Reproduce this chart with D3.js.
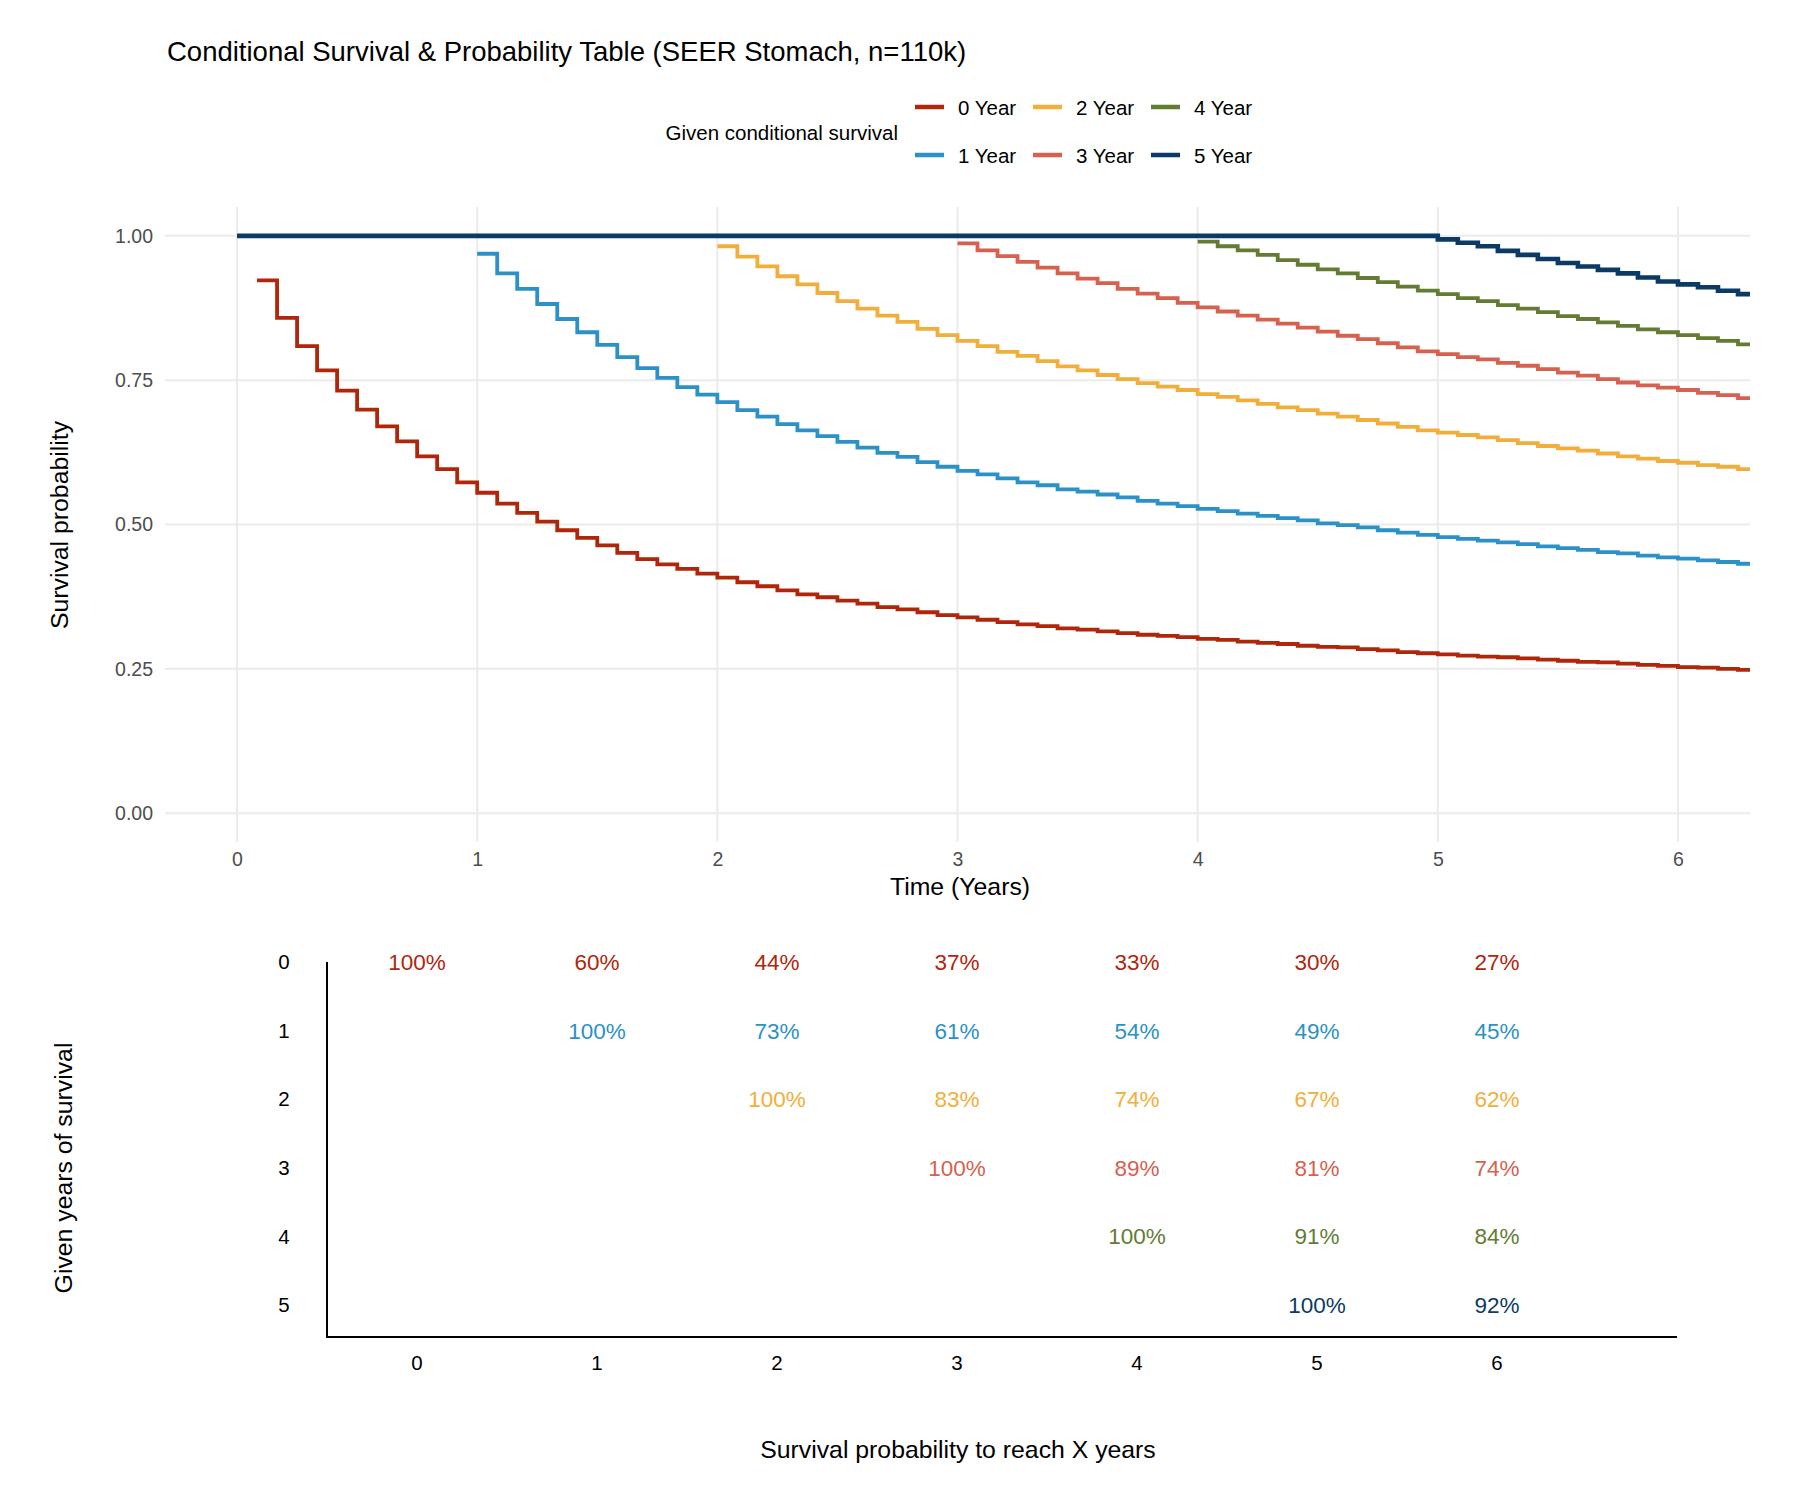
<!DOCTYPE html>
<html>
<head>
<meta charset="utf-8">
<title>Conditional Survival</title>
<script src="https://d3js.org/d3.v7.min.js"></script>
<style>
  body { margin: 0; background: #fff; }
  text { font-family: "Liberation Sans", Arial, sans-serif; }
</style>
</head>
<body>
<svg width="1800" height="1500"></svg>
<script>
    // groups: given years of conditional survival
    const groups = ["0 Year", "1 Year", "2 Year", "3 Year", "4 Year", "5 Year"];
    const colors = ["#B0260B", "#2B91C6", "#F2AE3A", "#D6614F", "#637B33", "#0B3A66"];
    // first time (years) of each curve, values step monthly after that
    const startTime = [0.0833, 1, 2, 3, 4, 5];
    const followUpEnd = 6.3;

    const surv0 = [0.923, 0.858, 0.809, 0.767, 0.732, 0.699, 0.670, 0.644, 0.618, 0.596, 0.573, 0.555,
        0.536, 0.520, 0.505, 0.490, 0.477, 0.464, 0.451, 0.440, 0.431, 0.423, 0.415,
        0.408, 0.400, 0.393, 0.386, 0.379, 0.374, 0.368, 0.363, 0.357, 0.353, 0.348, 0.343,
        0.339, 0.335, 0.331, 0.327, 0.324, 0.320, 0.318, 0.315, 0.312, 0.309, 0.307, 0.305,
        0.302, 0.300, 0.297, 0.295, 0.293, 0.290, 0.288, 0.287, 0.284, 0.282, 0.279, 0.277,
        0.275, 0.273, 0.271, 0.270, 0.268, 0.266, 0.264, 0.262, 0.261, 0.259, 0.257, 0.255,
        0.253, 0.252, 0.250, 0.248];
    const surv1 = [0.969, 0.935, 0.908, 0.882, 0.856, 0.833, 0.811, 0.790, 0.771, 0.754, 0.738, 0.725,
        0.712, 0.698, 0.687, 0.674, 0.663, 0.653, 0.643, 0.633, 0.624, 0.617, 0.608, 0.600,
        0.593, 0.587, 0.580, 0.573, 0.568, 0.561, 0.557, 0.552, 0.547, 0.541, 0.536, 0.532,
        0.527, 0.523, 0.519, 0.515, 0.511, 0.507, 0.502, 0.499, 0.495, 0.490, 0.486, 0.482,
        0.478, 0.475, 0.472, 0.469, 0.466, 0.462, 0.459, 0.456, 0.452, 0.450, 0.446, 0.443,
        0.441, 0.438, 0.435, 0.432];
    const surv2 = [0.982, 0.964, 0.947, 0.930, 0.916, 0.901, 0.887, 0.874, 0.862, 0.851, 0.839, 0.828,
        0.818, 0.809, 0.799, 0.792, 0.783, 0.774, 0.767, 0.759, 0.752, 0.745, 0.739, 0.733,
        0.726, 0.721, 0.715, 0.709, 0.703, 0.698, 0.692, 0.687, 0.681, 0.675, 0.669, 0.663,
        0.659, 0.655, 0.651, 0.646, 0.641, 0.636, 0.632, 0.628, 0.623, 0.618, 0.614, 0.610,
        0.607, 0.603, 0.600, 0.596];
    const surv3 = [0.987, 0.975, 0.965, 0.955, 0.945, 0.935, 0.926, 0.918, 0.908, 0.900, 0.892, 0.884,
        0.876, 0.869, 0.862, 0.855, 0.848, 0.841, 0.834, 0.827, 0.821, 0.814, 0.807, 0.800,
        0.795, 0.790, 0.786, 0.780, 0.775, 0.769, 0.763, 0.758, 0.752, 0.746, 0.741, 0.737,
        0.733, 0.728, 0.724, 0.719];
    const surv4 = [0.990, 0.982, 0.975, 0.967, 0.958, 0.950, 0.942, 0.935, 0.927, 0.920, 0.912, 0.905,
        0.899, 0.892, 0.887, 0.880, 0.874, 0.868, 0.861, 0.856, 0.850, 0.844, 0.838, 0.833,
        0.828, 0.823, 0.818, 0.812];
    const surv5 = [0.994, 0.988, 0.982, 0.974, 0.967, 0.960, 0.953, 0.947, 0.941, 0.935, 0.928, 0.921,
        0.916, 0.911, 0.905, 0.899];
    // the 5 year curve is drawn flat at 1 from time 0
    const lead5 = { t: 0, s: 1.00 };

    // probability table: row = given years, col = reach X years (percent)
    const tableRows = [0, 1, 2, 3, 4, 5];
    const tableCols = [0, 1, 2, 3, 4, 5, 6];
    const table0 = [100, 60, 44, 37, 33, 30, 27];
    const table1 = [100, 73, 61, 54, 49, 45];
    const table2 = [100, 83, 74, 67, 62];
    const table3 = [100, 89, 81, 74];
    const table4 = [100, 91, 84];
    const table5 = [100, 92];

    const xTicks = [0, 1, 2, 3, 4, 5, 6];
    const yTicks = [0, 0.25, 0.5, 0.75, 1];

    const survList = [surv0, surv1, surv2, surv3, surv4, surv5];
    const tableList = [table0, table1, table2, table3, table4, table5];

    const svg = d3.select("svg");

    // ---------- survival panel ----------
    const x = d3.scaleLinear().domain([-0.3, 6.3]).range([165, 1750]);
    const y = d3.scaleLinear().domain([-0.05, 1.05]).range([842, 207]);

    svg.append("clipPath").attr("id", "panel")
        .append("rect").attr("x", 165).attr("y", 200).attr("width", 1585).attr("height", 650);

    const grid = svg.append("g");
    grid.selectAll(".gx").data(xTicks).enter().append("line")
        .attr("x1", d => x(d)).attr("x2", d => x(d))
        .attr("y1", 207).attr("y2", 842)
        .attr("stroke", "#EBEBEB").attr("stroke-width", 2);
    grid.selectAll(".gy").data(yTicks).enter().append("line")
        .attr("x1", 165).attr("x2", 1750)
        .attr("y1", d => y(d)).attr("y2", d => y(d))
        .attr("stroke", "#EBEBEB").attr("stroke-width", 2);

    const yAxis = svg.append("g").attr("transform", "translate(165,0)")
        .call(d3.axisLeft(y).tickValues(yTicks).tickFormat(d3.format(".2f")).tickSize(0).tickPadding(12));
    const xAxis = svg.append("g").attr("transform", "translate(0,842)")
        .call(d3.axisBottom(x).tickValues(xTicks).tickFormat(d3.format("d")).tickSize(0).tickPadding(10));
    [xAxis, yAxis].forEach(a => {
        a.select(".domain").remove();
        a.selectAll("text").attr("fill", "#4D4D4D").style("font-size", "19.5px")
            .style("font-family", "Liberation Sans, Arial, sans-serif");
    });

    const line = d3.line().x(d => x(d.t)).y(d => y(d.s)).curve(d3.curveStepAfter);

    const curves = survList.map((vals, g) => {
        const pts = vals.map((v, i) => ({ t: startTime[g] + i / 12, s: v }));
        if (g === 5) pts.unshift(lead5);
        pts.push({ t: followUpEnd, s: vals[vals.length - 1] });
        return pts;
    });

    svg.append("g").attr("clip-path", "url(#panel)")
        .selectAll("path").data(curves).enter().append("path")
        .attr("d", line)
        .attr("fill", "none")
        .attr("stroke", (d, i) => colors[i])
        .attr("stroke-width", (d, i) => i === 5 ? 4.6 : 3.8);

    svg.append("text").attr("x", 167).attr("y", 61)
        .style("font-size", "27.5px").attr("fill", "#000")
        .text("Conditional Survival & Probability Table (SEER Stomach, n=110k)");

    svg.append("text").attr("x", 960).attr("y", 895)
        .attr("text-anchor", "middle").style("font-size", "24.8px")
        .text("Time (Years)");
    svg.append("text").attr("transform", "translate(68,525) rotate(-90)")
        .attr("text-anchor", "middle").style("font-size", "24.8px")
        .text("Survival probability");

    // legend (2 rows, filled by column)
    const legend = svg.append("g");
    legend.append("text").attr("x", 898).attr("y", 140).attr("text-anchor", "end")
        .style("font-size", "20.5px").text("Given conditional survival");
    const lg = legend.selectAll(".key").data(groups).enter().append("g")
        .attr("transform", (d, i) => `translate(${915 + Math.floor(i / 2) * 118},${i % 2 === 0 ? 107 : 155})`);
    lg.append("line").attr("x1", 0).attr("x2", 29).attr("y1", 0).attr("y2", 0)
        .attr("stroke", (d, i) => colors[i]).attr("stroke-width", 4.5);
    lg.append("text").attr("x", 43).attr("y", 7.5).style("font-size", "20.5px").text(d => d);

    // ---------- probability table ----------
    const tx = d3.scaleLinear().domain([-0.5, 7]).range([327, 1677]);
    const ty = d3.scaleLinear().domain([0, 5.47]).range([962, 1337]);

    svg.append("line").attr("x1", 327).attr("x2", 327).attr("y1", ty(0)).attr("y2", ty(5.47))
        .attr("stroke", "#000").attr("stroke-width", 2);
    svg.append("line").attr("x1", 326).attr("x2", 1677).attr("y1", ty(5.47)).attr("y2", ty(5.47))
        .attr("stroke", "#000").attr("stroke-width", 2.2);

    svg.selectAll(".rowlab").data(tableRows).enter().append("text")
        .attr("x", 284).attr("y", d => ty(d)).attr("dy", "0.36em")
        .attr("text-anchor", "middle").style("font-size", "20.5px").text(d => d);
    svg.selectAll(".collab").data(tableCols).enter().append("text")
        .attr("x", d => tx(d)).attr("y", 1363).attr("dy", "0.36em")
        .attr("text-anchor", "middle").style("font-size", "20.5px").text(d => d);

    const cells = [];
    tableList.forEach((vals, r) => vals.forEach((v, k) => cells.push({ r: r, c: r + k, v: v })));
    svg.selectAll(".cell").data(cells).enter().append("text")
        .attr("x", d => tx(d.c)).attr("y", d => ty(d.r)).attr("dy", "0.36em")
        .attr("text-anchor", "middle").style("font-size", "22.5px")
        .attr("fill", d => colors[d.r])
        .text(d => d.v + "%");

    svg.append("text").attr("x", 958).attr("y", 1458)
        .attr("text-anchor", "middle").style("font-size", "24.8px")
        .text("Survival probability to reach X years");
    svg.append("text").attr("transform", "translate(72,1168) rotate(-90)")
        .attr("text-anchor", "middle").style("font-size", "24.8px")
        .text("Given years of survival");
</script>
</body>
</html>
